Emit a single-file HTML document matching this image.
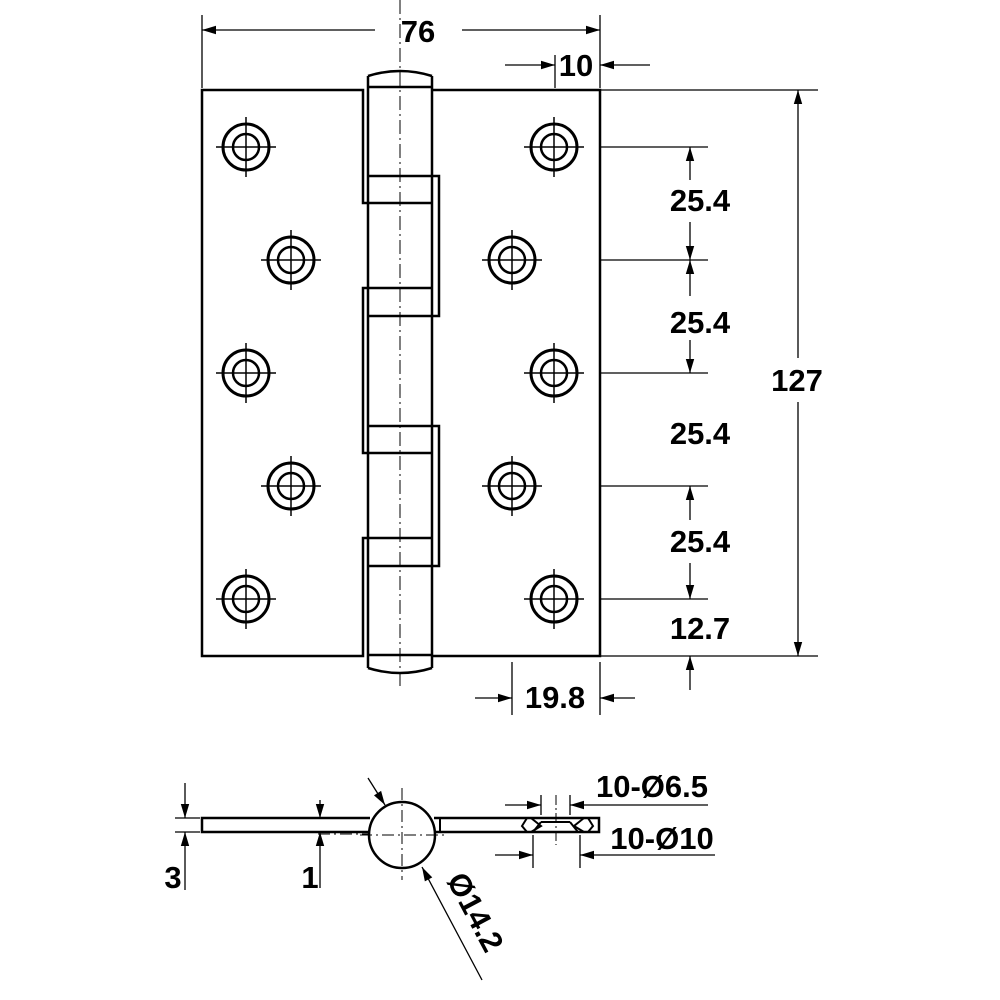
<!DOCTYPE html>
<html><head><style>html,body{margin:0;padding:0;background:#fff}svg{display:block}</style></head>
<body>
<svg width="1000" height="1000" viewBox="0 0 1000 1000" xmlns="http://www.w3.org/2000/svg">
<defs>
<marker id="ab" viewBox="0 0 10 10" refX="10" refY="5" markerWidth="22" markerHeight="14" markerUnits="userSpaceOnUse" orient="auto"><path d="M0,2 L10,5 L0,8 Z" fill="#000"/></marker>
<g id="h"><circle r="23" fill="none" stroke="#000" stroke-width="3"/><circle r="13" fill="none" stroke="#000" stroke-width="2.5"/><path d="M-30,0H30M0,-30V30" stroke="#000" stroke-width="1.5"/></g>
</defs>
<g fill="none" stroke="#000" stroke-width="2.5">
<path d="M368,203 H363 V90 H202 V656 H363 V538 H368"/>
<path d="M368,288 H363 V453 H368"/>
<path d="M432,90 H600 V656 H432"/>
<path d="M432,176 H439 V316 H432"/>
<path d="M432,426 H439 V566 H432"/>
<path d="M368,76 V668 M432,76 V668"/>
<path d="M368,87 H432 M368,176 H432 M368,203 H432 M368,288 H432 M368,316 H432 M368,426 H432 M368,453 H432 M368,538 H432 M368,566 H432 M368,655 H432"/>
<path d="M368,76 Q400,66 432,76 M368,668 Q400,678 432,668" stroke-width="2.5"/>
</g>
<path d="M400,0 V690" stroke="#000" stroke-width="1" stroke-dasharray="14,4,2,4" fill="none"/>
<use href="#h" x="246" y="147"/><use href="#h" x="291" y="260"/><use href="#h" x="246" y="373"/><use href="#h" x="291" y="486"/><use href="#h" x="246" y="599"/>
<use href="#h" x="554" y="147"/><use href="#h" x="512" y="260"/><use href="#h" x="554" y="373"/><use href="#h" x="512" y="486"/><use href="#h" x="554" y="599"/>
<g stroke="#000" stroke-width="1.3" fill="none">
<path d="M202,15 V88 M600,15 V88"/>
<path d="M375,30 H202" marker-end="url(#ab)"/><path d="M462,30 H600" marker-end="url(#ab)"/>
<path d="M555,55 V88"/>
<path d="M505,65 H555" marker-end="url(#ab)"/><path d="M650,65 H600" marker-end="url(#ab)"/>
<path d="M432,90 H818 M600,656 H818"/>
<path d="M798,358 V90" marker-end="url(#ab)"/><path d="M798,402 V656" marker-end="url(#ab)"/>
<path d="M600,147 H708 M600,260 H708 M600,373 H708 M600,486 H708 M600,599 H708"/>
<path d="M690,180 V147" marker-end="url(#ab)"/>
<path d="M690,222 V260" marker-end="url(#ab)"/><path d="M690,296 V260" marker-end="url(#ab)"/>
<path d="M690,340 V373" marker-end="url(#ab)"/>
<path d="M690,520 V486" marker-end="url(#ab)"/>
<path d="M690,563 V599" marker-end="url(#ab)"/>
<path d="M690,690 V656" marker-end="url(#ab)"/>
<path d="M512,662 V715 M600,662 V715"/>
<path d="M475,698 H512" marker-end="url(#ab)"/><path d="M635,698 H600" marker-end="url(#ab)"/>
</g>
<g font-family="Liberation Sans, sans-serif" font-weight="bold" font-size="31" text-anchor="middle" fill="#000">
<text x="418" y="42">76</text>
<text x="576" y="76">10</text>
<text x="797" y="391">127</text>
<text x="700" y="211">25.4</text>
<text x="700" y="333">25.4</text>
<text x="700" y="444">25.4</text>
<text x="700" y="552">25.4</text>
<text x="700" y="639">12.7</text>
<text x="555" y="708">19.8</text>
<text x="173" y="888">3</text>
<text x="310" y="888">1</text>
<text x="652" y="797">10-Ø6.5</text>
<text x="662" y="849">10-Ø10</text>
<text x="0" y="0" transform="translate(466,917) rotate(62)">Ø14.2</text>
</g>
<g fill="none" stroke="#000" stroke-width="2.5">
<path d="M370,818 H202 V832 H370"/>
<path d="M434,818 H599 V832 H434"/>
<path d="M440,818 V832" stroke-width="2"/>
<circle cx="402" cy="835" r="33" fill="#fff"/>
<path d="M527,818 L522,826 L527,832 M588,818 L593,826 L588,832" stroke-width="2"/>
<path d="M531,818 L541,826 L531,832 M584,818 L574,826 L584,832 M541,822 H570" stroke-width="2"/>
<path d="M533,832 L541,822 M578,832 L570,822" stroke-width="2"/>
</g>
<path d="M402,788 V880 M360,835 H444" stroke="#000" stroke-width="1" stroke-dasharray="12,4,2,4"/>
<path d="M318,834 H370" stroke="#000" stroke-width="1" stroke-dasharray="12,4,2,4"/>
<path d="M556,795 V845" stroke="#000" stroke-width="1" stroke-dasharray="10,3,2,3"/>
<g stroke="#000" stroke-width="1.3" fill="none">
<path d="M175,818 H200 M175,832 H200"/>
<path d="M185,783 V818" marker-end="url(#ab)"/><path d="M185,890 V832" marker-end="url(#ab)"/>
<path d="M320,800 V818" marker-end="url(#ab)"/><path d="M320,888 V832" marker-end="url(#ab)"/>
<path d="M368,778 L385,805" marker-end="url(#ab)"/>
<path d="M482,980 L422,867" marker-end="url(#ab)"/>
<path d="M541,795 V815 M570,795 V815"/>
<path d="M505,805 H541" marker-end="url(#ab)"/><path d="M708,805 H570" marker-end="url(#ab)"/>
<path d="M533,835 V868 M580,835 V868"/>
<path d="M495,855 H533" marker-end="url(#ab)"/><path d="M715,855 H580" marker-end="url(#ab)"/>
</g>
</svg>
</body></html>
